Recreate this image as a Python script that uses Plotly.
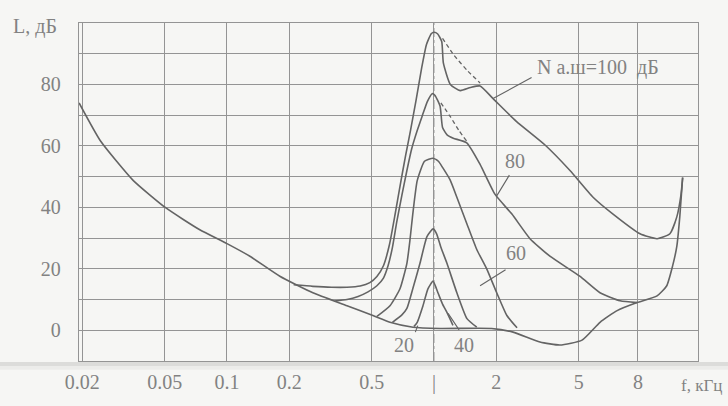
import math
import plotly.graph_objects as go

# ---------------- data ----------------
# hearing threshold in quiet
thr_f = [0.0193, 0.0245, 0.0352, 0.0507, 0.0739, 0.1, 0.129, 0.18, 0.26, 0.38, 0.507,
         0.613, 0.792, 1.07, 1.9, 2.41, 3.25, 4.06, 5.19, 6.34, 7.67, 9.58, 11.96,
         13.3, 14.2, 14.9, 15.4, 15.9]
thr_db = [74, 61.6, 48.8, 39.8, 32.7, 28.2, 24.1, 17.6, 12.2, 8.0, 4.8,
          2.6, 1.0, 0.6, 0.6, -0.6, -3.8, -4.8, -3.2, 2.6, 6.4, 9.0, 11.2,
          14.4, 20.8, 27.3, 36.9, 49.7]

# masked thresholds, noise level 100 dB
n100_f = [0.21, 0.26, 0.32, 0.38, 0.44, 0.49, 0.53, 0.57, 0.61, 0.65, 0.69, 0.73, 0.77,
          0.82, 0.87, 0.92, 0.97, 1.0, 1.04, 1.09, 1.11, 1.2, 1.34, 1.5, 1.67, 1.93, 2.5,
          3.44, 4.54, 5.87, 7.33, 9.9, 11.96, 13.8, 14.9, 15.6, 15.9]
n100_db = [14.8, 14.3, 14.0, 14.0, 14.4, 15.5, 17.5, 21, 28, 38, 48, 57, 65,
           75, 85, 93, 96.5, 97, 96.5, 94, 87, 80, 78, 79, 79.5, 75.4, 68,
           60.3, 52, 43.3, 37.8, 31.4, 29.8, 31.4, 36.9, 44, 49.7]
d100_f = [1.1, 1.25, 1.45, 1.67]
d100_db = [95, 89.5, 84.5, 80.5]

# noise level 80 dB
n80_f = [0.33, 0.38, 0.43, 0.48, 0.53, 0.57, 0.6, 0.63, 0.66, 0.7, 0.74, 0.78, 0.83, 0.88,
         0.93, 0.98, 1.01, 1.07, 1.1, 1.16, 1.24, 1.44, 1.67, 1.97, 2.38, 2.91, 3.63, 5.06,
         6.34, 7.93, 9.58]
n80_db = [9.5, 10, 11, 12.5, 14.5, 17, 21, 27, 35, 44, 52, 59, 65, 70,
          74.5, 77, 76.5, 73, 66, 63.5, 62.5, 61, 54, 44.3, 37.8, 29.8, 24.1, 17.6,
          12.2, 9.6, 9.0]
d80_f = [1.08, 1.2, 1.32, 1.44]
d80_db = [74, 69.5, 65, 61.5]

# noise level 60 dB
n60_f = [0.53, 0.613, 0.685, 0.74, 0.766, 0.79, 0.83, 0.9, 0.99, 1.05, 1.1, 1.195, 1.29,
         1.443, 1.61, 1.8, 2.01, 2.25, 2.52]
n60_db = [4.5, 8, 13.5, 21.8, 29.5, 37.8, 48.7, 55, 56, 55, 53, 49, 43.3,
          34.6, 26.3, 19.9, 12.2, 4.8, 0.8]

# noise level 40 dB
n40_f = [0.63, 0.7, 0.74, 0.79, 0.856, 0.925, 0.99, 1.03, 1.08, 1.155, 1.29, 1.443, 1.61]
n40_db = [2.6, 5, 7.1, 13.5, 21.8, 30.5, 33, 31.4, 27, 21.8, 12.2, 3.8, 1.0]

# noise level 20 dB
n20_f = [0.8, 0.83, 0.885, 0.935, 0.99, 1.045, 1.1, 1.155, 1.235]
n20_db = [1.2, 2.6, 8, 13.5, 16, 12.2, 8.5, 5.8, 1.6]

x_tickvals = [0.02, 0.05, 0.1, 0.2, 0.5, 1, 2, 5, 9.67]
x_ticktext = ["0.02", "0.05", "0.1", "0.2", "0.5", "|", "2", "5", "8"]
y_tickvals = [-10, 0, 10, 20, 30, 40, 50, 60, 70, 80, 90, 100]
y_ticktext = ["", "0", "", "20", "", "40", "", "60", "", "80", "", ""]

# ---------------- style ----------------
FONT = "Liberation Serif, Times New Roman, serif"
CURVE = "rgb(100,100,100)"
GRID = "rgb(148,148,148)"
TXT = "rgb(130,130,130)"
BG = "rgb(246,246,244)"

fig = go.Figure()


def add_curve(f, db, dash="solid", width=1.6):
    fig.add_trace(go.Scatter(x=f, y=db, mode="lines",
                             line=dict(color=CURVE, width=width, dash=dash, shape="spline",
                                       smoothing=0.5),
                             hoverinfo="skip", showlegend=False))


add_curve(thr_f, thr_db)
add_curve(n100_f, n100_db)
add_curve(d100_f, d100_db, dash="4px,3px", width=1.3)
add_curve(n80_f, n80_db)
add_curve(d80_f, d80_db, dash="4px,3px", width=1.3)
add_curve(n60_f, n60_db)
add_curve(n40_f, n40_db)
add_curve(n20_f, n20_db)

axis_font = dict(family=FONT, size=20, color=TXT)

fig.update_layout(
    width=728, height=406, autosize=False,
    margin=dict(l=79, r=30, t=23, b=40),
    paper_bgcolor=BG, plot_bgcolor=BG,
    xaxis=dict(type="log", range=[math.log10(0.01928), math.log10(18.86)],
               tickvals=x_tickvals, ticktext=x_ticktext, tickfont=axis_font,
               showgrid=True, gridcolor=GRID, gridwidth=1.2,
               showline=True, mirror=True, linecolor=GRID, linewidth=1.4,
               ticks="", zeroline=False, ticklabelstandoff=3),
    yaxis=dict(range=[-10, 100], tickvals=y_tickvals, ticktext=y_ticktext,
               tickfont=axis_font, showgrid=True, gridcolor=GRID, gridwidth=1.2,
               showline=True, mirror=True, linecolor=GRID, linewidth=1.4,
               ticks="", zeroline=False, ticklabelstandoff=13),
)

# 1 kHz line drawn dash-dot (cover the solid grid line first)
fig.add_shape(type="line", xref="x", yref="paper", x0=1, x1=1, y0=0, y1=1,
              line=dict(color=BG, width=2.5), layer="between")
fig.add_shape(type="line", xref="x", yref="paper", x0=1, x1=1, y0=0, y1=1,
              line=dict(color="rgb(165,165,165)", width=1.2, dash="dashdot"), layer="between")

# scanner shadow band below the plot
fig.add_shape(type="rect", xref="paper", yref="paper", x0=-0.13, x1=1.05, y0=-0.003, y1=-0.015,
              line=dict(width=0), fillcolor="rgba(160,160,160,0.30)", layer="below")
fig.add_shape(type="rect", xref="paper", yref="paper", x0=-0.13, x1=1.05, y0=-0.015, y1=-0.026,
              line=dict(width=0), fillcolor="rgba(180,180,180,0.15)", layer="below")

ann_font = dict(family=FONT, size=20, color=TXT)
# axis titles
fig.add_annotation(text="L, дБ", xref="paper", yref="paper", x=-0.11, y=0.991,
                   xanchor="left", yanchor="middle", showarrow=False, font=ann_font)
fig.add_annotation(text="f, кГц", xref="paper", yref="paper", x=0.97, y=-0.072,
                   xanchor="left", yanchor="middle", showarrow=False,
                   font=dict(family=FONT, size=17, color=TXT))

# curve labels
fig.add_annotation(text="N а.ш=100  дБ", x=math.log10(3.07), y=85.6, xanchor="left",
                   yanchor="middle", showarrow=False, font=ann_font)
fig.add_annotation(text="80", x=math.log10(2.46), y=55, showarrow=False, font=ann_font)
fig.add_annotation(text="60", x=math.log10(2.49), y=25, showarrow=False, font=ann_font)
fig.add_annotation(text="40", x=math.log10(1.396), y=-4.8, showarrow=False, font=ann_font)
fig.add_annotation(text="20", x=math.log10(0.716), y=-4.8, showarrow=False, font=ann_font)

# leader lines
lead = dict(showarrow=True, arrowhead=0, arrowwidth=1.1, arrowcolor=CURVE, text="")
fig.add_annotation(x=math.log10(1.93), y=75.4, ax=40, ay=-22, **lead)
fig.add_annotation(x=math.log10(2.0), y=43.5, ax=14, ay=-23, **lead)
fig.add_annotation(x=math.log10(1.67), y=14.5, ax=27, ay=-17, **lead)
fig.add_annotation(x=math.log10(1.17), y=5.5, ax=12, ay=18, **lead)
fig.add_annotation(x=math.log10(0.835), y=1.5, ax=-3, ay=8, **lead)

fig.write_html("out.html")
